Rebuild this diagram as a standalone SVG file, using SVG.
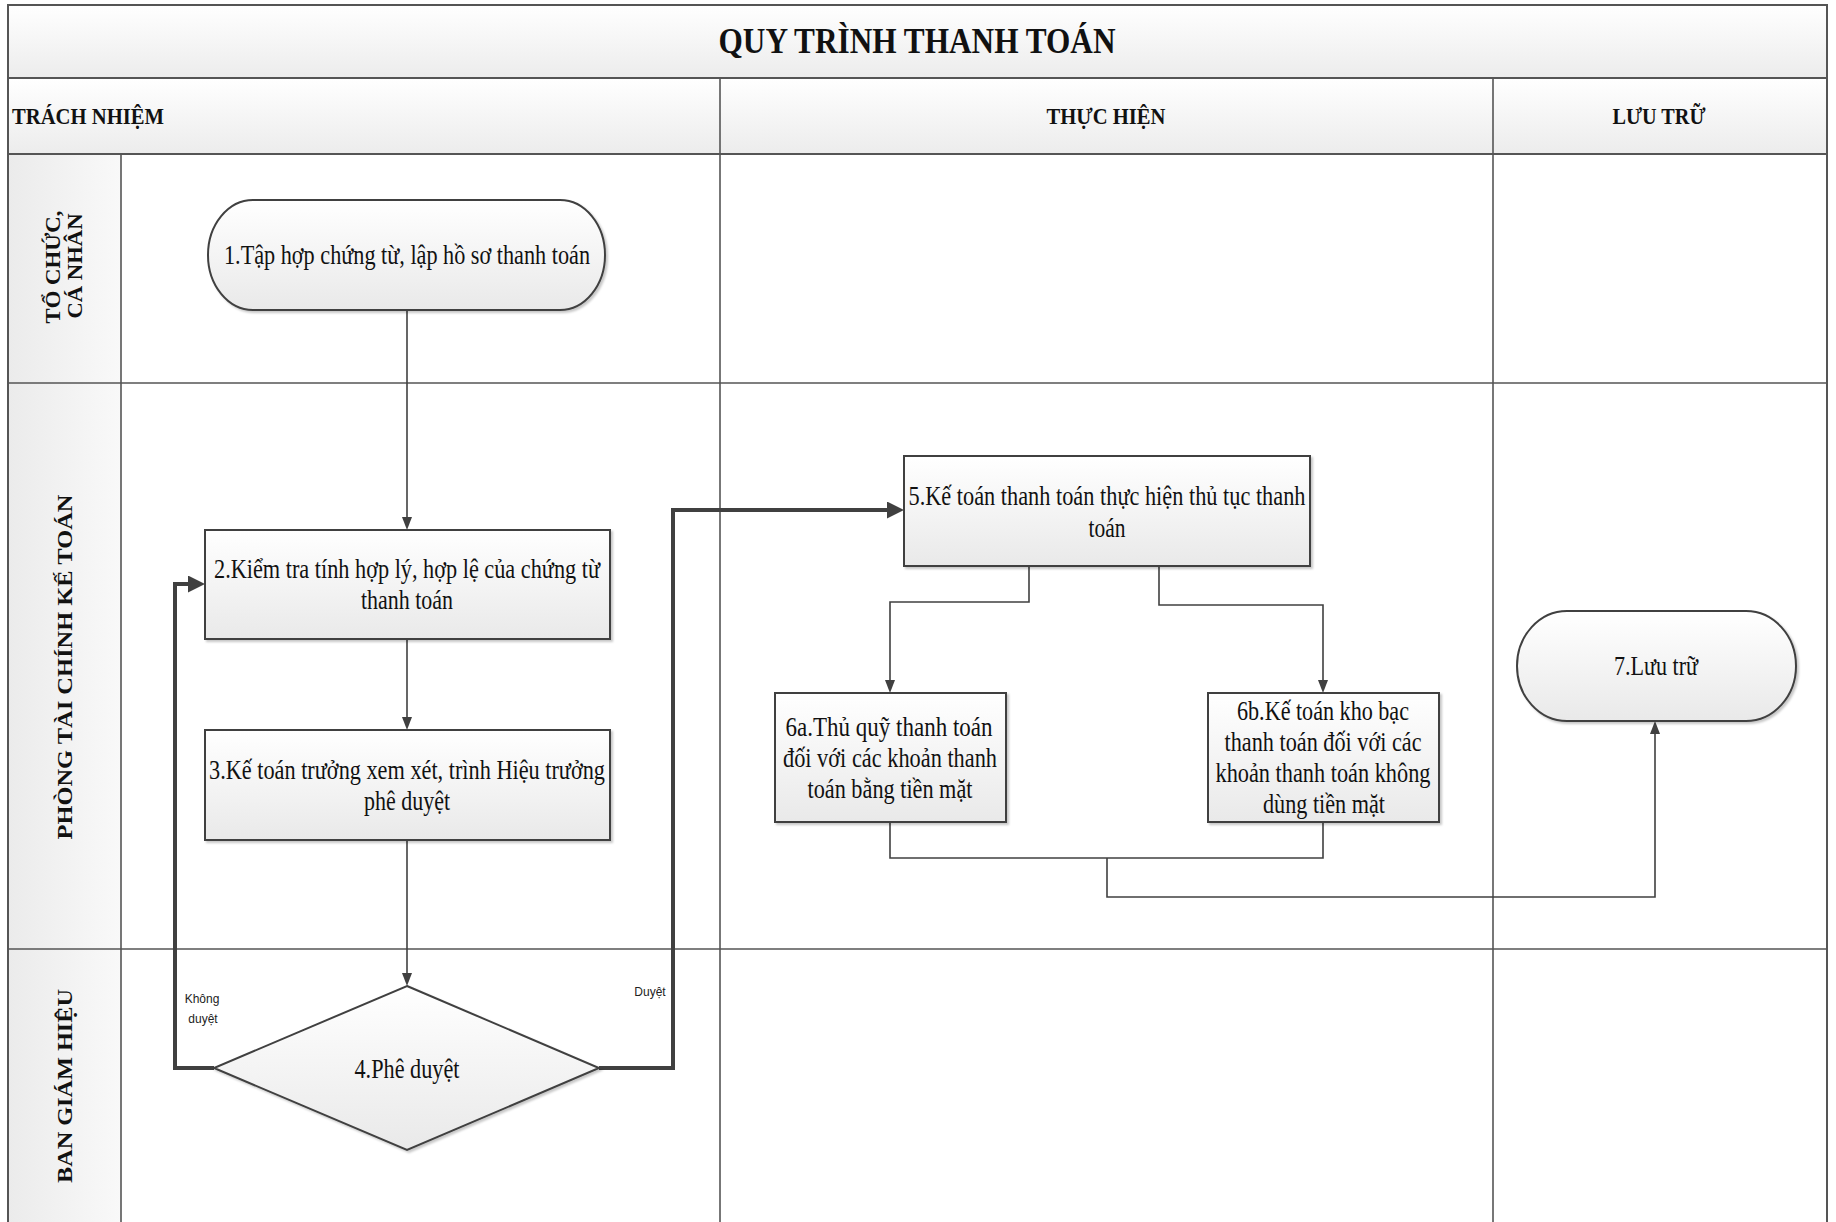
<svg xmlns="http://www.w3.org/2000/svg" width="1836" height="1222" viewBox="0 0 1836 1222">
<style>
.frame{fill:none;stroke:#555;stroke-width:2}
.grid{fill:none;stroke:#555;stroke-width:1.6}
.hdr{font-family:"Liberation Serif","Times New Roman",serif;font-weight:bold;fill:#111}
.lane{font-family:"Liberation Serif","Times New Roman",serif;font-weight:bold;fill:#111;font-size:22px}
.node{stroke:#404040;stroke-width:2;fill:url(#nodeGrad);filter:url(#shadow)}
.ntxt{font-family:"Liberation Serif","Times New Roman",serif;font-size:27px;fill:#111;text-anchor:middle}
.lbl{font-family:"Liberation Sans",Arial,sans-serif;font-size:12px;fill:#222;text-anchor:middle}
.thin{fill:none;stroke:#404040;stroke-width:1.6}
.thick{fill:none;stroke:#404040;stroke-width:4}
</style>
<defs>
<linearGradient id="nodeGrad" x1="0" y1="0" x2="0" y2="1">
<stop offset="0" stop-color="#ffffff"/>
<stop offset="1" stop-color="#e9e9e9"/>
</linearGradient>
<linearGradient id="hdrGrad" x1="0" y1="0" x2="0" y2="1">
<stop offset="0" stop-color="#ffffff"/>
<stop offset="1" stop-color="#ececec"/>
</linearGradient>
<linearGradient id="laneGrad" x1="0" y1="0" x2="1" y2="0">
<stop offset="0" stop-color="#ebebeb"/>
<stop offset="1" stop-color="#f9f9f9"/>
</linearGradient>
<filter id="shadow" x="-5%" y="-5%" width="115%" height="120%">
<feDropShadow dx="2" dy="2" stdDeviation="1.2" flood-color="#000" flood-opacity="0.22"/>
</filter>
<marker id="arr" markerUnits="userSpaceOnUse" markerWidth="13" markerHeight="10" refX="0" refY="5" orient="auto">
<path d="M0,0 L13,5 L0,10 Z" fill="#404040"/>
</marker>
<marker id="arrB" markerUnits="userSpaceOnUse" markerWidth="17" markerHeight="17" refX="0" refY="8.5" orient="auto">
<path d="M0,0 L17,8.5 L0,17 Z" fill="#404040"/>
</marker>
</defs>

<g id="swimlanes">
<rect x="0" y="0" width="1836" height="1222" fill="#ffffff"/>
<rect x="8" y="5" width="1819" height="73" fill="url(#hdrGrad)"/>
<rect x="8" y="78" width="1819" height="76" fill="url(#hdrGrad)"/>
<rect x="8" y="154" width="113" height="1070" fill="url(#laneGrad)"/>
<rect class="frame" x="8" y="5" width="1819" height="1222"/>
<line class="frame" x1="8" y1="78" x2="1827" y2="78"/>
<line class="frame" x1="8" y1="154" x2="1827" y2="154"/>
<line class="grid" x1="720" y1="78" x2="720" y2="1222"/>
<line class="grid" x1="1493" y1="78" x2="1493" y2="1222"/>
<line class="grid" x1="121" y1="154" x2="121" y2="1222"/>
<line class="grid" x1="8" y1="383" x2="1827" y2="383"/>
<line class="grid" x1="8" y1="949" x2="1827" y2="949"/>
<text class="hdr" x="917" y="53" font-size="35" text-anchor="middle" textLength="397" lengthAdjust="spacingAndGlyphs">QUY TRÌNH THANH TOÁN</text>
<text class="hdr" x="12" y="124" font-size="24" textLength="152" lengthAdjust="spacingAndGlyphs">TRÁCH NHIỆM</text>
<text class="hdr" x="1106" y="124" font-size="24" text-anchor="middle" textLength="119" lengthAdjust="spacingAndGlyphs">THỰC HIỆN</text>
<text class="hdr" x="1659" y="124" font-size="24" text-anchor="middle" textLength="93" lengthAdjust="spacingAndGlyphs">LƯU TRỮ</text>
<text class="lane" transform="translate(60,267) rotate(-90)" font-size="19" text-anchor="middle" textLength="113" lengthAdjust="spacingAndGlyphs">TỔ CHỨC,</text>
<text class="lane" transform="translate(82,266) rotate(-90)" font-size="19" text-anchor="middle" textLength="105" lengthAdjust="spacingAndGlyphs">CÁ NHÂN</text>
<text class="lane" transform="translate(72,667) rotate(-90)" text-anchor="middle" textLength="345" lengthAdjust="spacingAndGlyphs">PHÒNG TÀI CHÍNH KẾ TOÁN</text>
<text class="lane" transform="translate(72,1086) rotate(-90)" text-anchor="middle" textLength="194" lengthAdjust="spacingAndGlyphs">BAN GIÁM HIỆU</text>
</g>

<g id="connectors">
<path class="thin" d="M407,310 V517" marker-end="url(#arr)"/>
<path class="thin" d="M407,639 V717" marker-end="url(#arr)"/>
<path class="thin" d="M407,840 V973" marker-end="url(#arr)"/>
<path class="thin" d="M1029,566 V602 H890 V680" marker-end="url(#arr)"/>
<path class="thin" d="M1159,566 V605 H1323 V680" marker-end="url(#arr)"/>
<path class="thin" d="M890,822 V858 H1323 V822"/>
<path class="thin" d="M1107,858 V897 H1655 V734" marker-end="url(#arr)"/>
<path class="thick" d="M214,1068 H175 V584 H188" marker-end="url(#arrB)"/>
<path class="thick" d="M599,1068 H673 V510 H887" marker-end="url(#arrB)"/>
<text class="lbl" x="202" y="1003">Không</text>
<text class="lbl" x="203" y="1023">duyệt</text>
<text class="lbl" x="650" y="996">Duyệt</text>
</g>

<g id="node1">
<rect class="node" x="208" y="200" width="397" height="110" rx="45" ry="55"/>
<text class="ntxt" x="407" y="264" textLength="366" lengthAdjust="spacingAndGlyphs">1.Tập hợp chứng từ, lập hồ sơ thanh toán</text>
</g>
<g id="node2">
<rect class="node" x="205" y="530" width="405" height="109"/>
<text class="ntxt" x="407" y="578" textLength="386" lengthAdjust="spacingAndGlyphs">2.Kiểm tra tính hợp lý, hợp lệ của chứng từ</text>
<text class="ntxt" x="407" y="609" textLength="92" lengthAdjust="spacingAndGlyphs">thanh toán</text>
</g>
<g id="node3">
<rect class="node" x="205" y="730" width="405" height="110"/>
<text class="ntxt" x="407" y="779" textLength="396" lengthAdjust="spacingAndGlyphs">3.Kế toán trưởng xem xét, trình Hiệu trưởng</text>
<text class="ntxt" x="407" y="810" textLength="86" lengthAdjust="spacingAndGlyphs">phê duyệt</text>
</g>
<g id="node4">
<polygon class="node" points="407,986 599,1068 407,1150 214,1068"/>
<text class="ntxt" x="407" y="1078" textLength="105" lengthAdjust="spacingAndGlyphs">4.Phê duyệt</text>
</g>
<g id="node5">
<rect class="node" x="904" y="456" width="406" height="110"/>
<text class="ntxt" x="1107" y="505" textLength="397" lengthAdjust="spacingAndGlyphs">5.Kế toán thanh toán thực hiện thủ tục thanh</text>
<text class="ntxt" x="1107" y="537" textLength="37" lengthAdjust="spacingAndGlyphs">toán</text>
</g>
<g id="node6a">
<rect class="node" x="775" y="693" width="231" height="129"/>
<text class="ntxt" x="889" y="736" textLength="207" lengthAdjust="spacingAndGlyphs">6a.Thủ quỹ thanh toán</text>
<text class="ntxt" x="890" y="767" textLength="214" lengthAdjust="spacingAndGlyphs">đối với các khoản thanh</text>
<text class="ntxt" x="890" y="798" textLength="165" lengthAdjust="spacingAndGlyphs">toán bằng tiền mặt</text>
</g>
<g id="node6b">
<rect class="node" x="1208" y="693" width="231" height="129"/>
<text class="ntxt" x="1323" y="720" textLength="172" lengthAdjust="spacingAndGlyphs">6b.Kế toán kho bạc</text>
<text class="ntxt" x="1323" y="751" textLength="197" lengthAdjust="spacingAndGlyphs">thanh toán đối với các</text>
<text class="ntxt" x="1323" y="782" textLength="215" lengthAdjust="spacingAndGlyphs">khoản thanh toán không</text>
<text class="ntxt" x="1324" y="813" textLength="122" lengthAdjust="spacingAndGlyphs">dùng tiền mặt</text>
</g>
<g id="node7">
<rect class="node" x="1517" y="611" width="279" height="110" rx="50" ry="55"/>
<text class="ntxt" x="1656" y="675" textLength="84" lengthAdjust="spacingAndGlyphs">7.Lưu trữ</text>
</g>
</svg>
